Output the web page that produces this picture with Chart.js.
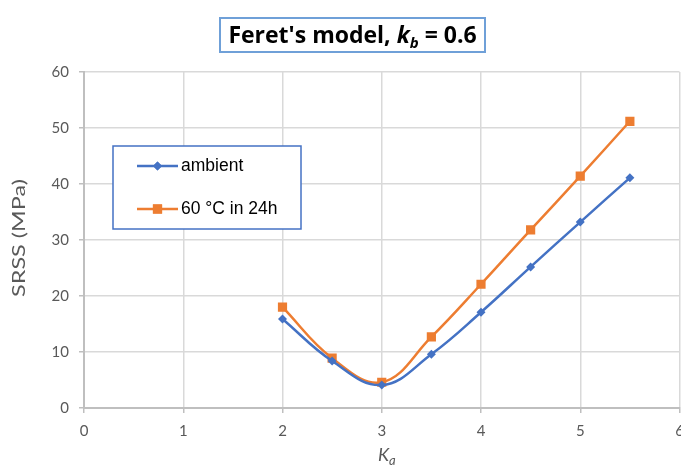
<!DOCTYPE html>
<html>
<head>
<meta charset="utf-8">
<script src="https://cdn.jsdelivr.net/npm/chart.js@4"></script>
<style>
html,body{margin:0;padding:0;background:#fff;overflow:hidden;}
#wrap{position:relative;width:681px;height:468px;overflow:hidden;}
#c{position:absolute;left:0;top:0;}
#title{position:absolute;left:219px;top:17px;width:267px;height:36px;border:2px solid #6fa0d8;box-sizing:border-box;
 font-family:"Open Sans","Liberation Sans",sans-serif;font-weight:bold;font-size:23px;line-height:31px;text-align:center;color:#000;}
#title sub{font-size:15px;vertical-align:-5px;line-height:0;}
</style>
</head>
<body>
<div id="wrap">
<canvas id="c" width="681" height="468"></canvas>
<div id="title">Feret's model, <i>k<sub>b</sub></i> = 0.6</div>
</div>
<script>
const xValues = [2, 2.5, 3, 3.5, 4, 4.5, 5, 5.5];
const ambient = [15.9, 8.4, 4.1, 9.6, 17.1, 25.2, 33.2, 41.1];
const heated = [18.0, 8.9, 4.6, 12.7, 22.1, 31.8, 41.4, 51.2];
const seriesNames = ["ambient", "60 °C in 24h"];
const xTitle = ["K", "a"];
const yTitle = "SRSS (MPa)";

const BLUE = "#4472c4", ORANGE = "#ed7d31";
const tickFont = {family: "Lato, 'Open Sans', sans-serif", size: 15};
const AREA = {left: 84, top: 72, right: 679.5, bottom: 408};

function pts(ys){ return xValues.map((x,i)=>({x:x,y:ys[i]})); }

const fixArea = {
  id: "fixArea",
  afterLayout(chart){
    const ca = chart.chartArea;
    Object.assign(ca, AREA);
    ca.width = AREA.right - AREA.left;
    ca.height = AREA.bottom - AREA.top;
    const x = chart.scales.x, y = chart.scales.y;
    x.left = AREA.left; x.right = AREA.right; x.width = ca.width;
    x.top = AREA.bottom; x.bottom = chart.height; x.height = x.bottom - x.top;
    y.left = 0; y.right = AREA.left; y.width = AREA.left;
    y.top = AREA.top; y.bottom = AREA.bottom; y.height = ca.height;
    x.configure(); y.configure();
  }
};

const extras = {
  id: "extras",
  afterDraw(chart){
    const ctx = chart.ctx;
    ctx.save();
    // legend box
    const lx = 113, ly = 146, lw = 188, lh = 83;
    ctx.strokeStyle = BLUE; ctx.lineWidth = 1.5;
    ctx.fillStyle = "#fff";
    ctx.fillRect(lx, ly, lw, lh);
    ctx.strokeRect(lx, ly, lw, lh);
    const items = [
      {y: 166, color: BLUE, style: "rectRot", r: 4.5, label: seriesNames[0]},
      {y: 209, color: ORANGE, style: "rect", r: 6.5, label: seriesNames[1]}
    ];
    ctx.font = "17.5px 'Liberation Sans', Arial, sans-serif";
    ctx.textBaseline = "middle";
    items.forEach(it=>{
      ctx.strokeStyle = it.color; ctx.lineWidth = 2.5;
      ctx.beginPath(); ctx.moveTo(137, it.y); ctx.lineTo(178, it.y); ctx.stroke();
      ctx.fillStyle = it.color;
      Chart.helpers.drawPoint(ctx, {pointStyle: it.style, radius: it.r, rotation: 0, borderWidth: 0}, 157.5, it.y);
      ctx.fill();
      ctx.fillStyle = "#000";
      ctx.fillText(it.label, 181, it.y);
    });
    // x title
    ctx.fillStyle = "#595959";
    ctx.font = "italic 18px Lato, 'Open Sans', sans-serif";
    ctx.textBaseline = "alphabetic";
    ctx.textAlign = "left";
    const kx = 378, ky = 461;
    ctx.fillText(xTitle[0], kx, ky);
    const kw = ctx.measureText(xTitle[0]).width;
    ctx.font = "italic 13px Lato, 'Open Sans', sans-serif";
    ctx.fillText(xTitle[1], kx + kw, ky + 4);
    // y title
    ctx.font = "18px Lato, 'Open Sans', sans-serif";
    ctx.translate(19, 238);
    ctx.rotate(-Math.PI/2);
    ctx.scale(1.3, 1);
    ctx.textAlign = "center";
    ctx.textBaseline = "middle";
    ctx.fillText(yTitle, 0, 0);
    ctx.restore();
  }
};

new Chart(document.getElementById("c"), {
  type: "scatter",
  data: {
    datasets: [
      {label: seriesNames[0], data: pts(ambient), showLine: true, borderColor: BLUE, backgroundColor: BLUE,
       borderWidth: 2.5, tension: 0.4, pointStyle: "rectRot", pointRadius: 4.5, pointHoverRadius: 4.5, pointBorderWidth: 0},
      {label: seriesNames[1], data: pts(heated), showLine: true, borderColor: ORANGE, backgroundColor: ORANGE,
       borderWidth: 2.5, tension: 0.4, pointStyle: "rect", pointRadius: 6.5, pointHoverRadius: 6.5, pointBorderWidth: 0}
    ]
  },
  options: {
    responsive: false,
    animation: false,
    layout: {padding: {left: 0, top: 72, right: 1, bottom: 0}},
    plugins: {legend: {display: false}, tooltip: {enabled: false}, title: {display: false}},
    scales: {
      x: {type: "linear", min: 0, max: 6,
          ticks: {stepSize: 1, color: "#595959", font: tickFont, padding: 9},
          grid: {color: "#d9d9d9", lineWidth: 1.5, tickLength: 5, tickColor: "#bfbfbf"},
          border: {color: "#bfbfbf", width: 2},
          afterFit(s){ s.height = 60; }},
      y: {min: 0, max: 60,
          ticks: {stepSize: 10, color: "#595959", font: tickFont, padding: 10},
          grid: {color: "#d9d9d9", lineWidth: 1.5, tickLength: 5, tickColor: "#bfbfbf"},
          border: {color: "#bfbfbf", width: 2},
          afterFit(s){ s.width = 84; }}
    }
  },
  plugins: [fixArea, extras]
});
</script>
</body>
</html>
